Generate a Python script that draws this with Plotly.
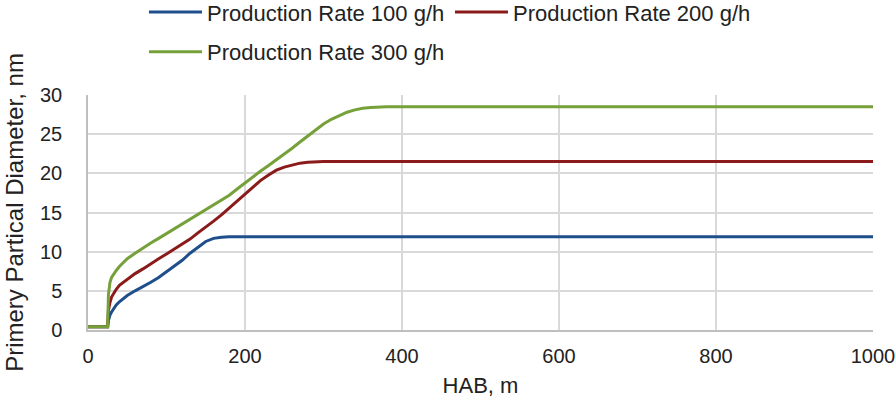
import plotly.graph_objects as go

hab_100 = [0, 25, 26, 27, 28, 30, 33, 36, 40, 45, 50, 60, 70, 80, 90, 100, 110, 120, 130,
           140, 150, 160, 170, 180, 200, 1000]
rate_100 = [0.4, 0.4, 1.2, 1.6, 1.9, 2.3, 2.8, 3.2, 3.6, 4.0, 4.4, 5.0, 5.5, 6.1, 6.7, 7.4,
            8.1, 8.9, 9.8, 10.6, 11.3, 11.7, 11.85, 11.9, 11.9, 11.9]

hab_200 = [0, 25, 26, 27, 28, 30, 33, 36, 40, 45, 50, 60, 70, 80, 90, 100, 110, 120, 130,
           140, 150, 160, 170, 180, 190, 200, 210, 220, 230, 240, 250, 260, 270, 280, 290,
           300, 1000]
rate_200 = [0.4, 0.4, 2.5, 3.1, 3.5, 4.2, 4.8, 5.2, 5.7, 6.1, 6.5, 7.2, 7.8, 8.5, 9.1, 9.7,
            10.3, 10.9, 11.6, 12.4, 13.1, 13.9, 14.7, 15.6, 16.5, 17.4, 18.3, 19.1, 19.8,
            20.4, 20.8, 21.1, 21.3, 21.4, 21.45, 21.5, 21.5]

hab_300 = [0, 25, 26, 27, 28, 30, 33, 36, 40, 45, 50, 60, 70, 80, 90, 100, 110, 120, 130,
           140, 150, 160, 170, 180, 190, 200, 210, 220, 230, 240, 250, 260, 270, 280, 290,
           300, 310, 320, 330, 340, 350, 360, 370, 380, 1000]
rate_300 = [0.4, 0.4, 4.5, 5.6, 6.1, 6.7, 7.2, 7.6, 8.1, 8.6, 9.1, 9.8, 10.5, 11.1, 11.7,
            12.3, 12.9, 13.5, 14.1, 14.7, 15.3, 15.9, 16.5, 17.2, 18.0, 18.8, 19.6, 20.3,
            21.0, 21.7, 22.4, 23.2, 24.0, 24.8, 25.6, 26.3, 26.9, 27.4, 27.8, 28.1, 28.3,
            28.4, 28.45, 28.5, 28.5]

names = ["Production Rate 100 g/h", "Production Rate 200 g/h", "Production Rate 300 g/h"]
colors = ["#1F4E8C", "#8B1A1A", "#76A03A"]
x_ticks = [0, 200, 400, 600, 800, 1000]
y_ticks = [0, 5, 10, 15, 20, 25, 30]

FONT = "Liberation Sans, Arial, sans-serif"

fig = go.Figure()
for xs, ys, nm, c, lg in zip([hab_100, hab_200, hab_300], [rate_100, rate_200, rate_300],
                             names, colors, ["legend", "legend", "legend2"]):
    fig.add_trace(go.Scatter(x=xs, y=ys, mode="lines", name=nm,
                             line=dict(color=c, width=3), legend=lg))

fig.update_layout(
    width=895, height=408,
    margin=dict(l=88, r=22, t=95, b=78, autoexpand=False),
    paper_bgcolor="white", plot_bgcolor="white",
    font=dict(family=FONT, size=20, color="#222222"),
    showlegend=True,
    legend=dict(orientation="h", x=0.0713, xanchor="left", y=1.352, yanchor="middle",
                itemwidth=53, entrywidth=238, font=dict(size=22), tracegroupgap=0,
                bgcolor="rgba(0,0,0,0)"),
    legend2=dict(orientation="h", x=0.0713, xanchor="left", y=1.183, yanchor="middle",
                 itemwidth=53, font=dict(size=22), bgcolor="rgba(0,0,0,0)"),
    xaxis=dict(range=[0, 1000], tickvals=x_ticks, ticklabeloverflow="allow",
               showgrid=True, gridcolor="#D9D9D9", gridwidth=1.5,
               showline=True, linecolor="#BFBFBF", linewidth=1.5,
               zeroline=False, ticks="", ticklabelstandoff=7,
               title=dict(text="HAB, m", standoff=12, font=dict(size=22))),
    yaxis=dict(range=[0, 30], tickvals=y_ticks,
               showgrid=True, gridcolor="#D9D9D9", gridwidth=1.5,
               showline=True, linecolor="#BFBFBF", linewidth=1.5,
               zeroline=False, ticks="", ticklabelstandoff=20,
               title=dict(text="Primery Partical Diameter, nm", standoff=10, font=dict(size=24))),
)

fig.write_html("out.html")
